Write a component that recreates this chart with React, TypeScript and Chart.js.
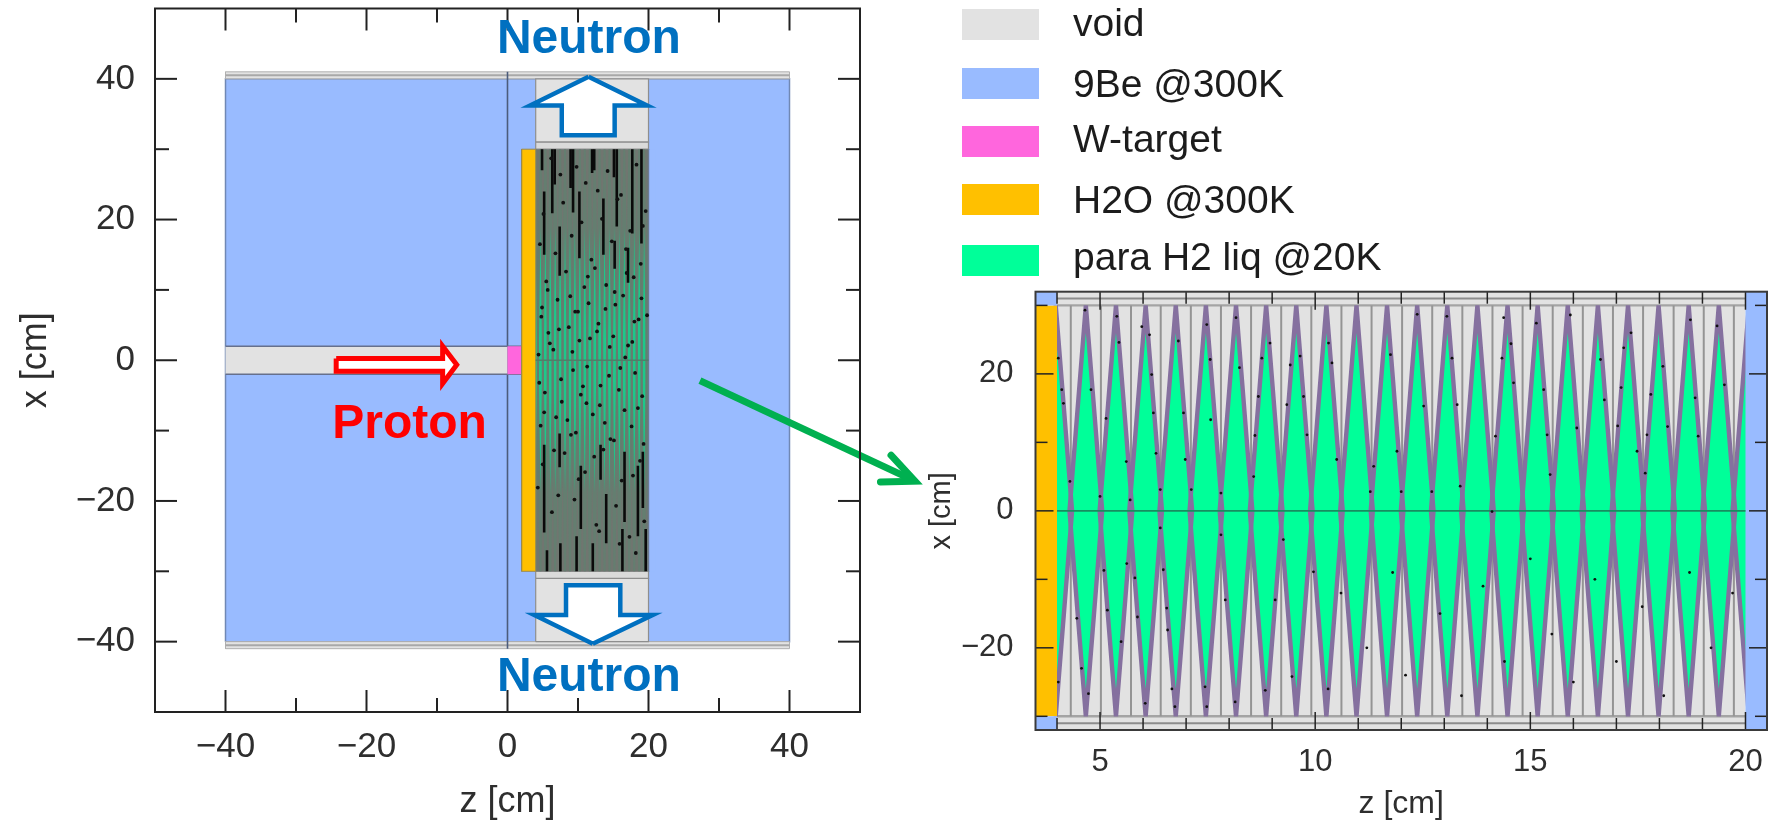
import React, { useEffect, useRef } from "react";
import { Chart, registerables } from "chart.js";

Chart.register(...registerables);

// ---------- values (cm) ----------
const overviewTicksZ = [-40, -20, 0, 20, 40];
const overviewMinorZ = [-30, -10, 10, 30];
const overviewTicksX = [-40, -20, 0, 20, 40];
const overviewMinorX = [-30, -10, 10, 30];
const detailTicksZ = [5, 10, 15, 20];
const detailMinorZ = [4, 6, 7, 8, 9, 11, 12, 13, 14, 16, 17, 18, 19];
const detailTicksX = [-20, 0, 20];
const detailLabelsX = [-20, 0, 20];
const detailMinorX = [-30, -10, 10, 30];

const legendLabels = ["void", "9Be @300K", "W-target", "H2O @300K", "para H2 liq @20K"];
const legendColors = ["#E2E2E2", "#99BBFF", "#FF66DD", "#FFC000", "#00FF99"];

// z of each moderator lens apex, and its half width at x = 0 and half height
const lensApexZ = [3.97, 4.67, 5.37, 6.06, 6.76, 7.46, 8.16, 8.86, 9.56, 10.26, 10.96, 11.67, 12.37, 13.07, 13.77, 14.47, 15.17, 15.87, 16.57, 17.27, 17.98, 18.68, 19.38, 20.08];
const lensHalfWidth = 0.38;
const lensHalfHeight = 30;

const separatorZ = [4.32, 5.02, 5.72, 6.41, 7.11, 7.81, 8.51, 9.21, 9.91, 10.61, 11.31, 12.02, 12.72, 13.42, 14.12, 14.82, 15.52, 16.22, 16.92, 17.62, 18.33, 19.03, 19.73];

const berylliumRect = [-40, 40, -40, 40];
const topStripRect = [-40, 40, 40, 41];
const bottomStripRect = [-40, 40, -41, -40];
const beamHoleRect = [-40, 0, -2, 2];
const targetRect = [0, 2, -2, 2];
const waterRect = [2, 4, -30, 30];
const moderatorRect = [4, 20, -30, 30];
const moderatorEdgeRect = [20, 21, -30, 30];
const upperGuideRect = [4, 20, 31, 40];
const lowerGuideRect = [4, 20, -40, -31];
const upperWindowRect = [4, 20, 30, 31];
const lowerWindowRect = [4, 20, -31, -30];

const protonArrow = [[-24.3, 0.25], [-9.2, 0.25], [-9.2, 2], [-7.2, -0.65], [-9.2, -3.3], [-9.2, -1.55], [-24.3, -1.55]];
const upArrow = [[11.5, 40.3], [19.8, 36.2], [15.2, 36.2], [15.2, 32], [7.7, 32], [7.7, 36.2], [3.2, 36.2]];
const downArrow = [[12.1, -40.3], [20.6, -36.2], [16, -36.2], [16, -32], [8.3, -32], [8.3, -36.2], [3.8, -36.2]];
const linkShaft = [[27.3, -2.9], [57.2, -16.9]];
const linkHead = [[54.4, -13.5], [57.8, -17.2], [52.9, -17.3]];

// black streaks of the overview: z, x from, x to
const overviewStreaks = [
  [4.9, 30, 27], [6.35, 30, 20.9], [6.7, 30, 25], [8.95, 30, 24.5], [9.3, 30, 21], [12, 30, 26.6], [12.3, 30, 27],
  [15.1, 30, 26], [15.5, 30, 19], [17.7, 30, 18], [19, 30, 16.6], [5.2, 24, 15], [7.4, 19, 12], [10.2, 24, 14.5],
  [13.6, 23, 15], [15.2, 17, 13], [17.1, 16, 11],
  [7.39, -10.4, -15.2], [5.2, -12, -24.5], [10.4, -15, -24], [13.2, -12, -17], [16.6, -13, -23], [14, -19, -26],
  [16.3, -24, -30], [19.6, -24, -30], [5.6, -27, -30], [12.1, -26, -30], [9.8, -25, -30], [7.5, -26, -30], [18.5, -15, -25], [19.2, -13, -21]
];

const overviewSpecksZ = [6.2, 7.5, 9.8, 11.1, 12.8, 14.2, 16.1, 18.3, 19.6, 5.1, 7.9, 10.5, 13.4, 15.6, 17.4, 19.2, 4.6, 6.8, 9.1, 11.9, 14.8, 16.8, 18.9, 5.5, 8.3, 10.9, 12.4, 15.2, 17.9, 4.9, 7.1, 9.6, 11.5, 13.9, 16.4, 18.6, 19.8, 5.8, 8.7, 10.2, 12.9, 15, 17.1, 4.4, 6.5, 9.3, 11.3, 14.4, 16.7, 18.1, 5.3, 7.7, 10.7, 13.1, 15.8, 19.1, 4.7, 6.9, 9, 12.1, 14.6, 17.6, 5, 8.1, 11, 13.6, 16.2, 18.8, 6.3, 9.5, 12.6, 15.4, 17.3, 19.4,
  5.7, 8.9, 11.4, 14, 16.9, 19, 4.8, 7.3, 10, 12.7, 15.3, 18, 6, 9.2, 11.7, 14.5, 17.7, 4.5, 7.6, 10.4, 13.2, 16, 18.5, 5.2, 8.5, 11.2, 13.8, 16.6, 19.3, 6.6, 9.7, 12.3, 15.1, 17.8, 4.3, 7.2, 10.1, 13, 15.9, 18.2];
const overviewSpecksX = [28.7, 26.4, 27.5, 25.2, 24.1, 26.9, 23.5, 27.8, 21.2, 20.8, 22.4, 19.6, 20.1, 22.9, 18.4, 19.1, 16.5, 15.2, 17.7, 14.3, 16.9, 15.8, 13.7, 11.2, 12.6, 10.4, 13.1, 9.7, 11.8, 7.5, 8.6, 6.9, 8.1, 7.3, 9.2, 5.8, 6.4, 3.9, 4.7, 2.8, 5.2, 3.4, 2.1, 0.8, 1.5, -1.4, -0.9, -2.2, 0.4, -1.8, -4.6, -5.9, -3.7, -6.4, -4.2, -5.1, -9.3, -8.1, -10.6, -7.7, -11.2, -9.4, -14.8, -13.2, -15.9, -12.7, -17.1, -14.3, -21.6, -19.8, -23.4, -20.7, -25.1, -22.9,
  10, 9.1, 11.9, 10.7, 12.4, 8.8, 6.2, 4.4, 6.9, 4.1, 7.9, 5.5, 2.4, 1.2, 3.1, 1.9, 2.6, -3.2, -2.7, -4.9, -3.6, -1.1, -6.8, -7.4, -8.5, -6.1, -8.9, -7.1, -11.9, -12.8, -10.3, -13.7, -11.4, -16.4, -18.1, -19.2, -16.9, -24.3, -26.1, -27.4];

const detailSpecksZ = [4.65, 5.39, 5.44, 5.97, 6.15, 4.03, 4.11, 4.15, 4.79, 5.14, 5.61, 6.2, 6.24, 6.3, 6.82, 6.94, 6.98, 7.56, 7.57, 7.48, 8.16, 8.24, 8.76, 8.68, 8.6, 8.95, 9.42, 9.34, 9.65, 9.73, 9.81, 6.4, 7.12, 7.81, 4.3, 5, 5.7, 6.4, 7.81, 9.26, 8.57,
  4.03, 4.46, 4.73, 4.57, 5.09, 5.17, 5.49, 5.62, 5.81, 5.87, 6.05, 6.47, 6.55, 6.57, 6.67, 6.74, 7.44, 7.48, 7.91, 8.14, 8.84, 9.07, 9.46, 9.96,
  10.39, 10.31, 10.5, 11.28, 11.36, 11.75, 11.9, 12, 12.37, 12.52, 12.71, 13.06, 13.18, 13.3, 13.37, 14.19, 14.38, 14.55, 14.34, 14.11,
  14.61, 15.14, 15.31, 15.39, 15.46, 15.93, 16.08, 16.63, 16.72, 17.17, 17.11, 17.03, 17.34, 17.48, 17.8, 17.71, 18.08, 18.19, 18.72, 18.83, 18.9, 19.34, 19.51, 17.67,
  10.3, 10.6, 11.2, 11.8, 12.1, 12.9, 13.4, 13.9, 14.4, 15, 15.5, 16, 16.5, 17, 17.6, 18.1, 18.7, 19.2, 19.7];
const detailSpecksX = [29.3, 28.4, 24.6, 26.9, 25.7, 22.3, 17.7, 15.7, 17.7, 13.5, 7.2, 19.9, 14.3, 8.4, 24.8, 14.3, 7.5, 22.1, 13.3, 27.2, 28.2, 20.9, 22.3, 16.7, 11, 24.5, 21.3, 15.5, 22.6, 16.7, 11.1, 3.1, 3.1, 2.6, 4.3, 2.1, 1.6, -2.5, -3.5, -4.2, 5,
  -25, -15.7, -26.7, -23, -8.7, -14.5, -19.1, -7.7, -9.8, -15.5, -28.1, -8.6, -14.2, -17.4, -26, -28.6, -25.7, -28.6, -13, -27.9, -26.2, -13, -24.2, -8.9,
  21.6, 24.5, 7.5, 2.8, 6.5, 22.8, 8.7, 2.8, 28.7, 15.3, 2.8, 28.4, 22.3, 15.5, 3.6, 10.9, 28.2, 24.4, 22.3, -0.1,
  18.7, 27.4, 17.7, 11.1, 5.3, 28.6, 12.1, 22.1, 16.2, 23.8, 18, 12.4, 26, 8.7, 17, 11.1, 21.1, 12.3, 27.9, 16.5, 10.9, 27, 18.4, 5.5,
  -26, -12, -20, -9, -24, -15, -27, -11, -22, -7, -18, -25, -10, -22, -14, -27, -9, -20, -12];

// ---------- dataset helpers ----------
const FONT = "'Liberation Sans', Arial, sans-serif";

const rectPoints = ([z0, z1, x0, x1]: number[]) => [
  { x: z0, y: x0 }, { x: z1, y: x0 }, { x: z1, y: x1 }, { x: z0, y: x1 }, { x: z0, y: x0 },
];
const polyPoints = (p: number[][]) => [...p, p[0]].map(([x, y]) => ({ x, y }));
const openPoints = (p: number[][]) => p.map(([x, y]) => ({ x, y }));

const shape = (data: any[], fillColor: string, border = "transparent", width = 0, extra: any = {}) => ({
  type: "scatter", data, showLine: true, fill: "shape", tension: 0,
  backgroundColor: fillColor, borderColor: border, borderWidth: width, pointRadius: 0,
  borderJoinStyle: "miter", ...extra,
});
const stroke = (data: any[], color: string, width: number, extra: any = {}) => ({
  type: "scatter", data, showLine: true, fill: false, tension: 0,
  borderColor: color, borderWidth: width, pointRadius: 0, borderCapStyle: "butt", ...extra,
});
const specks = (zs: number[], xs: number[], radius: number) => ({
  type: "scatter", data: zs.map((z, i) => ({ x: z, y: xs[i] })), showLine: false,
  pointRadius: radius, pointBackgroundColor: "#101010", pointBorderWidth: 0,
});
const lens = (z: number) => [
  { x: z, y: lensHalfHeight }, { x: z + lensHalfWidth, y: 0 }, { x: z, y: -lensHalfHeight },
  { x: z - lensHalfWidth, y: 0 }, { x: z, y: lensHalfHeight },
];

// painter's order: first item at the back
const overviewLayers: any[] = [
  shape(rectPoints(berylliumRect), "#99BBFF", "#7088B4", 1.5),
  shape(rectPoints(topStripRect), "#E2E2E2", "#B0B0B0", 1),
  stroke(openPoints([[-40, 40.5], [40, 40.5]]), "#A8A8A8", 2),
  shape(rectPoints(bottomStripRect), "#E2E2E2", "#B0B0B0", 1),
  stroke(openPoints([[-40, -40.5], [40, -40.5]]), "#A8A8A8", 2),
  stroke(openPoints([[0, 41], [0, -41]]), "#4C5C7C", 1.6),
  shape(rectPoints(beamHoleRect), "#E2E2E2"),
  stroke(openPoints([[-40, 2], [2, 2]]), "#66708C", 1.6),
  stroke(openPoints([[-40, -2], [2, -2]]), "#66708C", 1.6),
  shape(rectPoints(targetRect), "#FF66DD"),
  shape(rectPoints(upperGuideRect), "#E2E2E2", "#8E8E8E", 1.2),
  shape(rectPoints(lowerGuideRect), "#E2E2E2", "#8E8E8E", 1.2),
  shape(rectPoints(upperWindowRect), "#DADADA", "#8E8E8E", 1.2),
  shape(rectPoints(lowerWindowRect), "#DADADA", "#8E8E8E", 1.2),
  shape(rectPoints(moderatorRect), "#707670"),
  ...lensApexZ.map((z) => shape(lens(z), "#1DC88A")),
  ...lensApexZ.map((z) => stroke(lens(z), "#647E70", 2, { borderJoinStyle: "bevel" })),
  shape(rectPoints(moderatorEdgeRect), "#99BBFF"),
  stroke(openPoints([[20, 30], [20, -30]]), "#6E7A90", 1.4),
  shape(rectPoints(waterRect), "#FFC000", "#9A8A50", 1),
  stroke(openPoints([[4, 0], [20, 0]]), "#4F7F6A", 1.5),
  ...overviewStreaks.map(([z, a, b]) => stroke(openPoints([[z, a], [z, b]]), "#0A0A0A", 2.6)),
  specks(overviewSpecksZ, overviewSpecksX, 1.9),
  shape(polyPoints(protonArrow), "#FFFFFF", "#FF0000", 5),
  shape(polyPoints(upArrow), "#FFFFFF", "#0070C0", 4.5),
  shape(polyPoints(downArrow), "#FFFFFF", "#0070C0", 4.5),
  stroke(openPoints(linkShaft), "#00B050", 7, { clip: false, borderCapStyle: "butt" }),
  stroke(openPoints(linkHead), "#00B050", 7, { clip: false, borderCapStyle: "round", borderJoinStyle: "miter" }),
];

const detailLayers: any[] = [
  shape(rectPoints([4, 20, -32, 32]), "#E2E2E2"),
  stroke(openPoints([[4, 31], [20, 31]]), "#8C8C8C", 2),
  stroke(openPoints([[4, 30], [20, 30]]), "#A4A4A4", 2.4),
  stroke(openPoints([[4, -31], [20, -31]]), "#8C8C8C", 2),
  stroke(openPoints([[4, -30], [20, -30]]), "#A4A4A4", 2.4),
  ...separatorZ.map((z) => stroke(openPoints([[z, 30], [z, -30]]), "#949494", 2)),
  ...lensApexZ.map((z) => shape(lens(z), "#00FF99")),
  ...lensApexZ.map((z) => stroke(lens(z), "#85709F", 4.4, { borderJoinStyle: "bevel" })),
  shape(rectPoints([3.5, 4, -30, 30]), "#FFC000"),
  shape(rectPoints([3.5, 4, 30, 32]), "#99BBFF"),
  shape(rectPoints([3.5, 4, -32, -30]), "#99BBFF"),
  shape(rectPoints([20, 20.5, -32, 32]), "#99BBFF"),
  stroke(openPoints([[4, 0], [20, 0]]), "#178E60", 1.8),
  specks(detailSpecksZ, detailSpecksX, 1.4),
];

// ---------- helpers drawn through the chart's own scales ----------
const framePlugin = (cfg: any) => ({
  id: "frameAndTicks",
  afterDatasetsDraw(chart: any) {
    const { ctx, chartArea: a, scales } = chart;
    ctx.save();
    ctx.strokeStyle = cfg.tickColor;
    ctx.lineWidth = cfg.tickWidth;
    const hline = (x0: number, x1: number, y: number) => { ctx.beginPath(); ctx.moveTo(x0, y); ctx.lineTo(x1, y); ctx.stroke(); };
    const vline = (x: number, y0: number, y1: number) => { ctx.beginPath(); ctx.moveTo(x, y0); ctx.lineTo(x, y1); ctx.stroke(); };
    const xTicks = (vals: number[], len: number) => vals.forEach((v) => {
      const p = scales.x.getPixelForValue(v);
      vline(p, a.top, a.top + len); vline(p, a.bottom, a.bottom - len);
    });
    const yTicks = (vals: number[], len: number) => vals.forEach((v) => {
      const p = scales.y.getPixelForValue(v);
      hline(a.left, a.left + len, p); hline(a.right, a.right - len, p);
    });
    xTicks(cfg.majorX, cfg.major); xTicks(cfg.minorX, cfg.minor);
    yTicks(cfg.majorY, cfg.major); yTicks(cfg.minorY, cfg.minor);
    ctx.strokeStyle = cfg.frameColor;
    ctx.lineWidth = cfg.frameWidth;
    ctx.strokeRect(a.left, a.top, a.right - a.left, a.bottom - a.top);
    ctx.restore();
  },
});

const calloutPlugin = {
  id: "callouts",
  afterDatasetsDraw(chart: any) {
    const { ctx, scales } = chart;
    ctx.save();
    ctx.font = `bold 48px ${FONT}`;
    ctx.textAlign = "center";
    ctx.textBaseline = "alphabetic";
    const put = (t: string, z: number, x: number, c: string) => {
      ctx.fillStyle = c;
      ctx.fillText(t, scales.x.getPixelForValue(z), scales.y.getPixelForValue(x));
    };
    put("Neutron", 11.55, 43.7, "#0070C0");
    put("Neutron", 11.55, -46.95, "#0070C0");
    put("Proton", -13.9, -11, "#FF0000");
    ctx.restore();
  },
};

const legendPlugin = {
  id: "materialLegend",
  afterDraw(chart: any) {
    const { ctx } = chart;
    const boxTop = [9, 68, 126, 184, 245];
    const baseline = [36, 96.5, 151.5, 213, 270];
    ctx.save();
    ctx.font = `39px ${FONT}`;
    ctx.textBaseline = "alphabetic";
    ctx.textAlign = "left";
    legendLabels.forEach((t, i) => {
      ctx.fillStyle = legendColors[i];
      ctx.fillRect(37, boxTop[i], 77, 31);
      ctx.fillStyle = "#1C1C1C";
      ctx.fillText(t, 148, baseline[i]);
    });
    ctx.restore();
  },
};

const fmt = (v: any) => String(v).replace("-", "\u2212");

const makeOptions = (c: any) => ({
  responsive: false,
  animation: false,
  devicePixelRatio: 1,
  events: [],
  layout: { autoPadding: false, padding: c.padding },
  plugins: { legend: { display: false }, tooltip: { enabled: false }, title: { display: false } },
  scales: {
    x: {
      type: "linear", min: c.xMin, max: c.xMax,
      grid: { display: false, drawTicks: false }, border: { display: false },
      afterBuildTicks: (s: any) => { s.ticks = c.xTickVals.map((value: number) => ({ value })); },
      afterFit: (s: any) => { s.height = c.bottomHeight; s.paddingLeft = 0; s.paddingRight = 0; },
      ticks: { callback: fmt, autoSkip: false, maxRotation: 0, padding: c.xTickPad, color: "#2E2E2E", font: { family: FONT, size: c.tickFont } },
      title: { display: true, text: "z [cm]", color: "#2E2E2E", font: { family: FONT, size: c.xTitleFont, lineHeight: 1.1 }, padding: { top: 0, bottom: c.xTitlePad } },
    },
    y: {
      type: "linear", min: c.yMin, max: c.yMax,
      grid: { display: false, drawTicks: false }, border: { display: false },
      afterBuildTicks: (s: any) => { s.ticks = c.yTickVals.map((value: number) => ({ value })); },
      afterFit: (s: any) => { s.width = c.leftWidth; s.paddingTop = 0; s.paddingBottom = 0; },
      ticks: { callback: fmt, autoSkip: false, padding: c.yTickPad, color: "#2E2E2E", font: { family: FONT, size: c.tickFont } },
      title: { display: true, text: "x [cm]", color: "#2E2E2E", font: { family: FONT, size: c.yTitleFont }, padding: { top: c.yTitlePad, bottom: 0 } },
    },
  },
});

export default function App() {
  const leftRef = useRef<HTMLCanvasElement>(null);
  const rightRef = useRef<HTMLCanvasElement>(null);

  useEffect(() => {
    const left = new Chart(leftRef.current as any, {
      type: "scatter",
      data: { datasets: [...overviewLayers].reverse() },
      options: makeOptions({
        padding: { top: 8.5, right: 65, left: 0, bottom: 0 },
        xMin: -50, xMax: 50, yMin: -50, yMax: 50,
        xTickVals: overviewTicksZ, yTickVals: overviewTicksX,
        bottomHeight: 110, leftWidth: 155,
        tickFont: 35, xTitleFont: 36, yTitleFont: 36, xTickPad: 14, yTitlePad: 14, xTitlePad: 0, yTickPad: 20,
      }) as any,
      plugins: [
        framePlugin({ majorX: overviewTicksZ, minorX: overviewMinorZ, majorY: overviewTicksX, minorY: overviewMinorX, major: 22, minor: 14, tickColor: "#222", tickWidth: 2, frameColor: "#222", frameWidth: 2 }),
        calloutPlugin,
      ] as any,
    });
    const right = new Chart(rightRef.current as any, {
      type: "scatter",
      data: { datasets: [...detailLayers].reverse() },
      options: makeOptions({
        padding: { top: 291.7, right: 9, left: 0, bottom: 0 },
        xMin: 3.5, xMax: 20.5, yMin: -32, yMax: 32,
        xTickVals: detailTicksZ, yTickVals: detailLabelsX,
        bottomHeight: 92, leftWidth: 110.5,
        tickFont: 31, xTitleFont: 32, yTitleFont: 29, xTickPad: 14, xTitlePad: 0, yTickPad: 22, yTitlePad: 0,
      }) as any,
      plugins: [
        framePlugin({ majorX: detailTicksZ, minorX: detailMinorZ, majorY: detailTicksX, minorY: detailMinorX, major: 18, minor: 12, tickColor: "#222", tickWidth: 1.5, frameColor: "#3A3A3A", frameWidth: 2 }),
        legendPlugin,
      ] as any,
    });
    return () => { left.destroy(); right.destroy(); };
  }, []);

  return (
    <div style={{ position: "absolute", left: 0, top: 0, width: 1776, height: 822, overflow: "hidden", background: "#fff" }}>
      <canvas ref={leftRef} width={925} height={822} style={{ position: "absolute", left: 0, top: 0, width: 925, height: 822, display: "block" }} />
      <canvas ref={rightRef} width={851} height={822} style={{ position: "absolute", left: 925, top: 0, width: 851, height: 822, display: "block" }} />
    </div>
  );
}
